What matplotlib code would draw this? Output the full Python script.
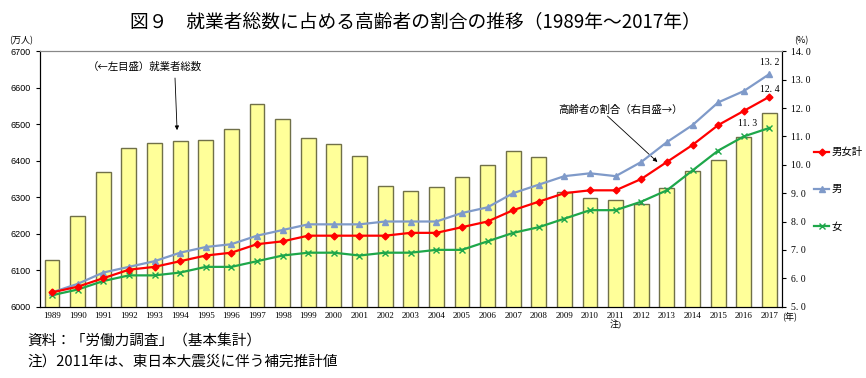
import matplotlib
matplotlib.use("Agg")
import matplotlib.pyplot as plt
import numpy as np

plt.rcParams['font.family'] = ['Noto Sans CJK JP', 'DejaVu Sans']

# データ
years = list(range(1989, 2018))
employed = [6128, 6249, 6369, 6436, 6450, 6453, 6457, 6486, 6557, 6514,
            6462, 6446, 6412, 6330, 6316, 6329, 6356, 6389, 6427, 6409,
            6314, 6298, 6293, 6280, 6326, 6371, 6401, 6465, 6530]
share_total = [5.5, 5.7, 6.0, 6.3, 6.4, 6.6, 6.8, 6.9, 7.2, 7.3,
               7.5, 7.5, 7.5, 7.5, 7.6, 7.6, 7.8, 8.0, 8.4, 8.7,
               9.0, 9.1, 9.1, 9.5, 10.1, 10.7, 11.4, 11.9, 12.4]
share_male = [5.5, 5.8, 6.2, 6.4, 6.6, 6.9, 7.1, 7.2, 7.5, 7.7,
              7.9, 7.9, 7.9, 8.0, 8.0, 8.0, 8.3, 8.5, 9.0, 9.3,
              9.6, 9.7, 9.6, 10.1, 10.8, 11.4, 12.2, 12.6, 13.2]
share_female = [5.4, 5.6, 5.9, 6.1, 6.1, 6.2, 6.4, 6.4, 6.6, 6.8,
                6.9, 6.9, 6.8, 6.9, 6.9, 7.0, 7.0, 7.3, 7.6, 7.8,
                8.1, 8.4, 8.4, 8.7, 9.1, 9.8, 10.5, 11.0, 11.3]
year_labels = [str(y) for y in years]
year_labels[years.index(2011)] = "2011\n注)"

serif = ['Liberation Serif', 'Noto Sans CJK JP']

x = np.arange(len(years))

fig = plt.figure(figsize=(8.66, 3.78), dpi=100)
ax = fig.add_axes([0.0462, 0.189, 0.857, 0.675])
ax2 = ax.twinx()

# 棒グラフ（就業者総数）
ax.bar(x, employed, width=0.58, color='#FFFF99', edgecolor='#707048', linewidth=1.0, zorder=2)
ax.set_ylim(6000, 6700)
ax.set_yticks(range(6000, 6701, 100))
ax.set_xlim(-0.47, len(years) - 0.5)
ax.set_xticks(x)
ax.set_xticklabels(year_labels, family=serif, fontsize=6.5, linespacing=0.9)
ax.tick_params(axis='x', length=0, pad=4)
ax.tick_params(axis='y', labelsize=6.5, length=3, direction='out')
for t in ax.get_yticklabels():
    t.set_family('Liberation Sans')
ax.spines['top'].set_color('#888888')

# 折れ線（高齢者の割合）
ax2.plot(x, share_total, color='#FF0000', lw=1.6, marker='D', ms=3.5, label='男女計', zorder=5)
ax2.plot(x, share_male, color='#7F9AC9', lw=1.6, marker='^', ms=5, label='男', zorder=4)
ax2.plot(x, share_female, color='#1EA74A', lw=1.6, marker='x', ms=4.5, mew=1.0, label='女', zorder=4)
ax2.set_ylim(5.0, 14.0)
ax2.set_yticks(np.arange(5, 14.1, 1))
ax2.set_yticklabels([f"{v:.1f}".replace('.', '. ') for v in np.arange(5, 14.1, 1)],
                    family=serif, fontsize=7)
ax2.tick_params(axis='y', length=3, direction='out')
ax2.spines['top'].set_color('#888888')

# 最終値ラベル
for s, dx, dy in [(share_male, 0.0, 0.4), (share_total, 0.0, 0.27), (share_female, -0.85, 0.17)]:
    ax2.text(x[-1] + dx, s[-1] + dy, f"{s[-1]:.1f}".replace('.', '. '),
             ha='center', va='center', family=serif, fontsize=7)

# 凡例
ax2.legend(loc='center left', bbox_to_anchor=(1.03, 0.46), frameon=False,
           fontsize=7.5, handlelength=1.5, handletextpad=0.2, labelspacing=2.6)

# 注記
fig.text(0.48, 0.94, "図９　就業者総数に占める高齢者の割合の推移（1989年～2017年）",
         ha='center', va='center', fontsize=13.5)
fig.text(0.024, 0.88, "(万人)", ha='center', va='bottom', fontsize=6.5)
fig.text(0.925, 0.88, "(%)", ha='center', va='bottom', fontsize=6.5)
fig.text(0.912, 0.161, "(年)", ha='center', va='center', fontsize=6.5)

ax.text(3.63, 6658, "（←左目盛）就業者総数", ha='center', va='center', fontsize=7.5)
ax.annotate("", xy=(4.88, 6484), xytext=(4.8, 6627),
            arrowprops=dict(arrowstyle='-|>', color='black', lw=0.6, mutation_scale=6,
                            shrinkA=0, shrinkB=0))
ax2.text(22.2, 11.93, "高齢者の割合（右目盛→）", ha='center', va='center', fontsize=7.5)
ax2.annotate("", xy=(23.63, 10.1), xytext=(21.68, 11.72),
             arrowprops=dict(arrowstyle='-|>', color='black', lw=0.6, mutation_scale=6,
                             shrinkA=0, shrinkB=0))

fig.text(0.032, 0.096, "資料：「労働力調査」（基本集計）", ha='left', va='center', fontsize=10.5)
fig.text(0.032, 0.043, "注）2011年は、東日本大震災に伴う補完推計値", ha='left', va='center', fontsize=10.5)

fig.savefig("out.png", dpi=100)
